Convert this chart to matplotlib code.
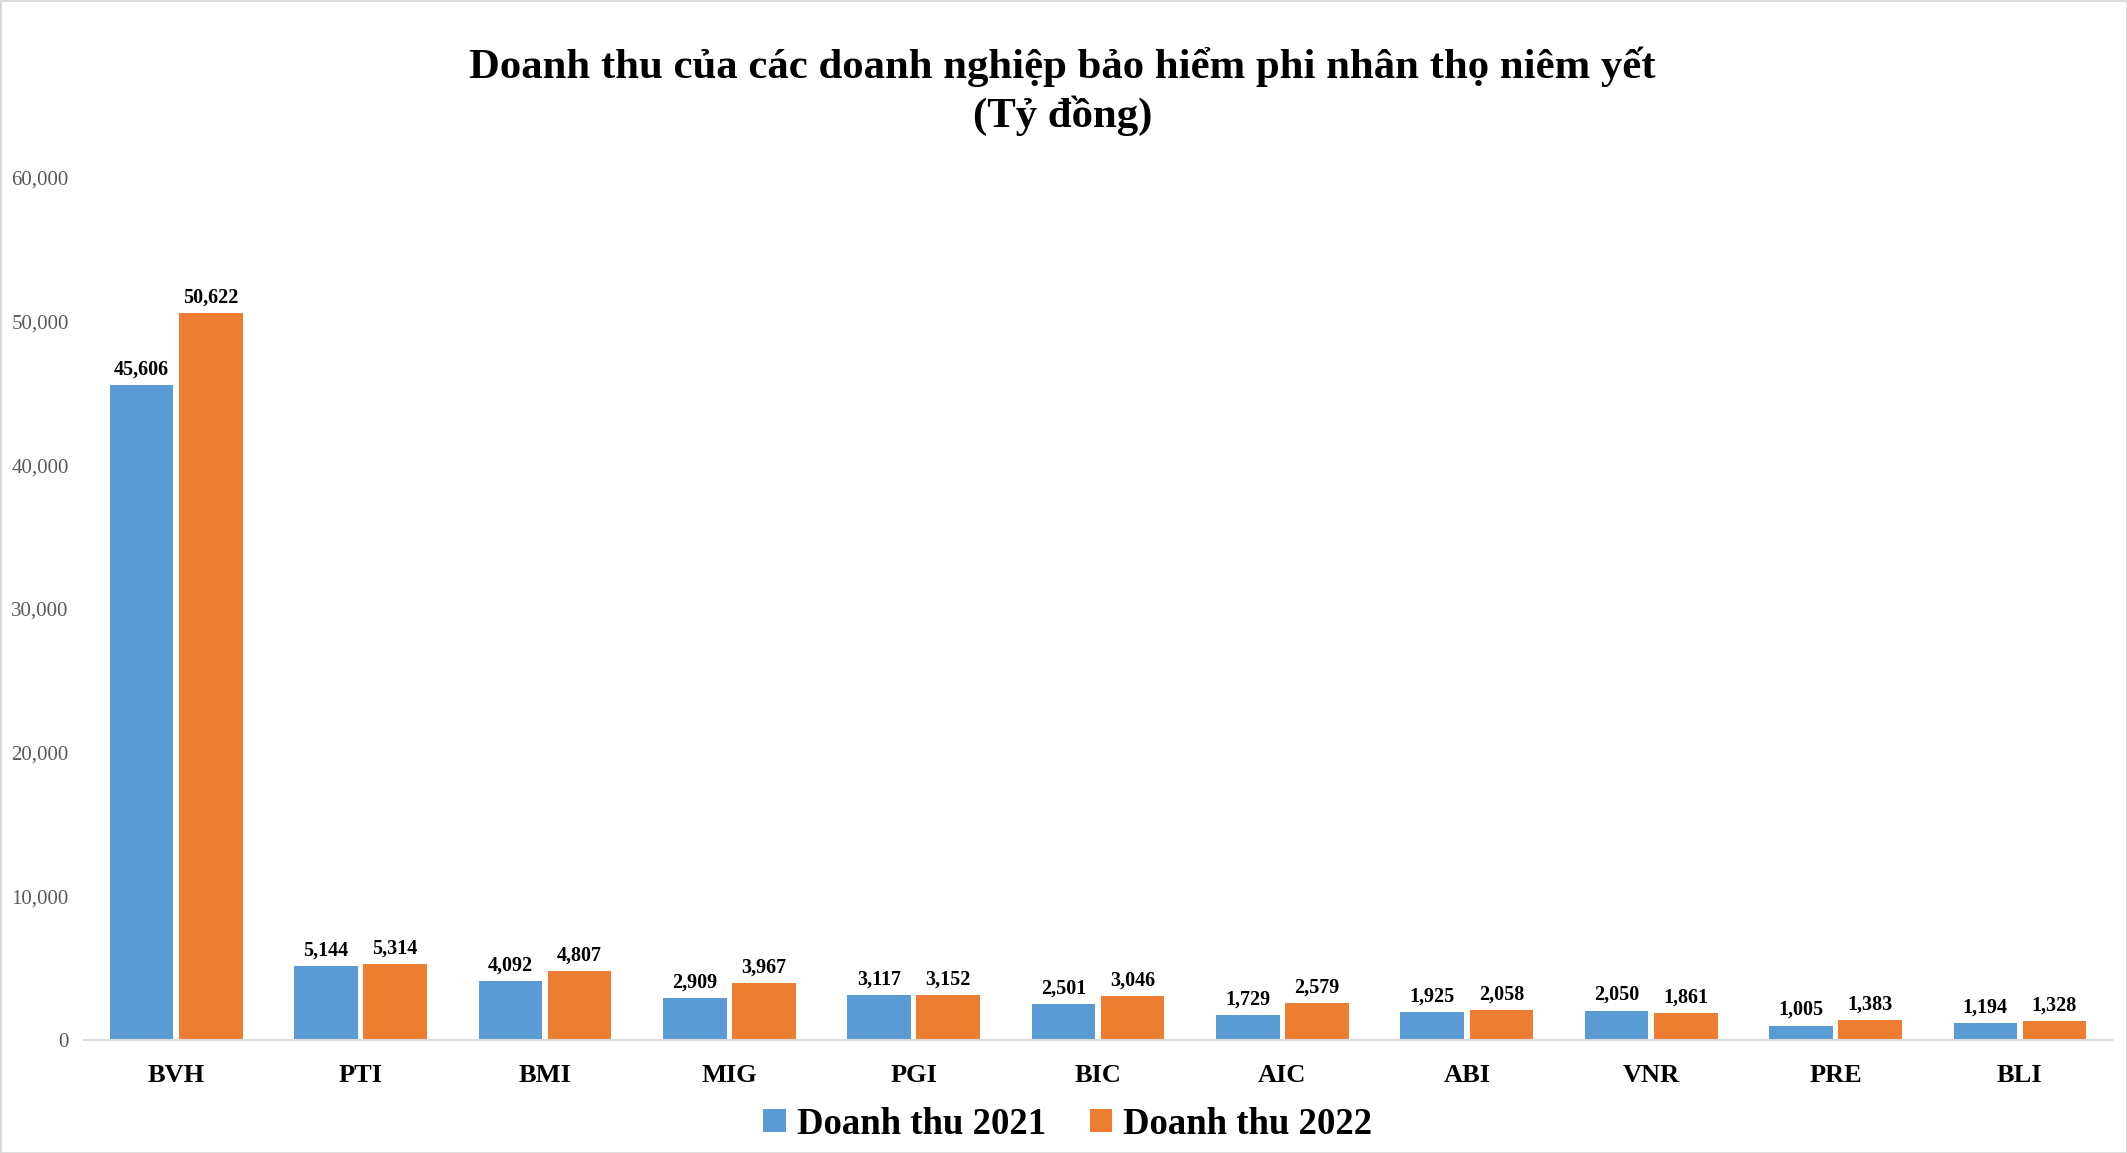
import matplotlib
matplotlib.use("Agg")
import matplotlib.pyplot as plt
import numpy as np
from matplotlib.patches import Rectangle

companies = ["BVH", "PTI", "BMI", "MIG", "PGI", "BIC", "AIC", "ABI", "VNR", "PRE", "BLI"]
rev_2021 = [45606, 5144, 4092, 2909, 3117, 2501, 1729, 1925, 2050, 1005, 1194]
rev_2022 = [50622, 5314, 4807, 3967, 3152, 3046, 2579, 2058, 1861, 1383, 1328]
series_names = ["Doanh thu 2021", "Doanh thu 2022"]
title = "Doanh thu của các doanh nghiệp bảo hiểm phi nhân thọ niêm yết\n(Tỷ đồng)"
yticks = [0, 10000, 20000, 30000, 40000, 50000, 60000]

plt.rcParams["font.family"] = ["Liberation Serif", "DejaVu Serif"]

BLUE = "#5B9BD5"
ORANGE = "#ED7D31"

fig = plt.figure(figsize=(21.27, 11.53), dpi=100)
ax = fig.add_axes([0.0395, 0.098, 0.9535, 0.7476])

x = np.arange(len(companies))
w = 0.345
off = 0.1875
b1 = ax.bar(x - off, rev_2021, w, color=BLUE, label=series_names[0])
b2 = ax.bar(x + off, rev_2022, w, color=ORANGE, label=series_names[1])

for bars in (b1, b2):
    for rect in bars:
        h = rect.get_height()
        ax.annotate(f"{h:,.0f}", (rect.get_x() + rect.get_width() / 2, h),
                    xytext=(0, 4), textcoords="offset points",
                    ha="center", va="bottom", fontsize=14.5, fontweight="bold")

ax.set_xlim(-0.5, len(companies) - 0.5)
ax.set_ylim(0, 60000)
ax.set_yticks(yticks)
ax.set_yticklabels([f"{v:,}" for v in yticks])
ax.set_xticks(x)
ax.set_xticklabels(companies)
ax.tick_params(axis="y", length=0, pad=11, labelsize=15, labelcolor="#595959")
ax.tick_params(axis="x", length=0, pad=17, labelsize=19)
for lab in ax.get_xticklabels():
    lab.set_fontweight("bold")

for s in ("top", "right", "left"):
    ax.spines[s].set_visible(False)
ax.spines["bottom"].set_color("#d9d9d9")
ax.spines["bottom"].set_linewidth(1.5)

fig.text(0.4995, 0.921, title, ha="center", va="center", fontsize=30.8,
         fontweight="bold", linespacing=1.27)

fig.legend(loc="center", bbox_to_anchor=(0.502, 0.025), ncol=2, frameon=False,
           prop={"size": 26.5, "weight": "bold"}, handlelength=0.6, handleheight=0.6,
           handletextpad=0.3, columnspacing=1.2)

fig.patches.append(Rectangle((0, 0), 1, 1, transform=fig.transFigure,
                             fill=False, edgecolor="#d9d9d9", linewidth=2))

fig.savefig("out.png", dpi=100)
